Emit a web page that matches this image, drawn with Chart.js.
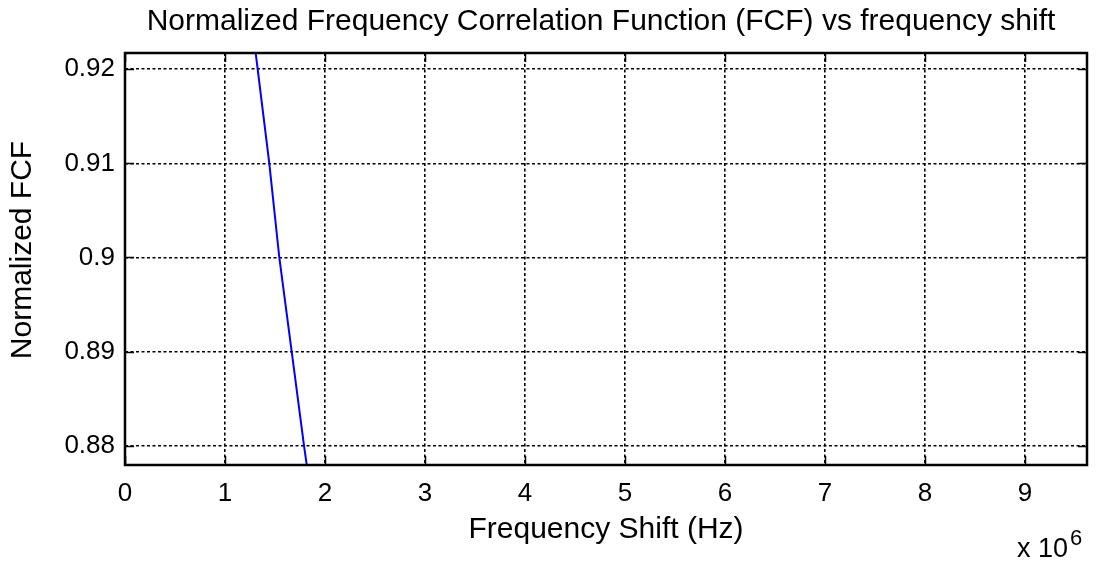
<!DOCTYPE html>
<html>
<head>
<meta charset="utf-8">
<script src="https://cdn.jsdelivr.net/npm/chart.js@4.4.1/dist/chart.umd.min.js"></script>
<style>
  html, body { margin: 0; padding: 0; background: #fff; }
  #wrap { width: 1096px; height: 565px; position: relative; }
</style>
</head>
<body>
<div id="wrap"><canvas id="c" width="1096" height="565"></canvas></div>
<script>
// Data
const freqShiftHz = [1.307e6, 1.327e6, 1.443e6, 1.543e6, 1.667e6, 1.790e6, 1.817e6];
const fcfValues   = [0.9217, 0.9200, 0.9100, 0.9000, 0.8900, 0.8800, 0.8780];
const xTickValues = [0, 1e6, 2e6, 3e6, 4e6, 5e6, 6e6, 7e6, 8e6, 9e6];
const xTickLabels = ['0', '1', '2', '3', '4', '5', '6', '7', '8', '9'];
const yTickValues = [0.88, 0.89, 0.90, 0.91, 0.92];
const yTickLabels = ['0.88', '0.89', '0.9', '0.91', '0.92'];
const xRange = [0, 9.62e6];
const yRange = [0.87795, 0.92173];

const chartTitle = 'Normalized Frequency Correlation Function (FCF) vs frequency shift';
const yAxisTitle = 'Normalized FCF';
const xAxisTitle = 'Frequency Shift (Hz)';

const FONT = 'Liberation Sans, Arial, Helvetica, sans-serif';

const framePlugin = {
  id: 'frame',
  afterDatasetsDraw(chart) {
    const { ctx, chartArea: a, scales } = chart;
    const tl = 9;
    ctx.save();
    ctx.strokeStyle = '#000';
    ctx.lineWidth = 1.5;
    ctx.beginPath();
    xTickValues.forEach(v => {
      const px = Math.round(scales.x.getPixelForValue(v)) + 0.5;
      ctx.moveTo(px, a.bottom); ctx.lineTo(px, a.bottom - tl);
      ctx.moveTo(px, a.top); ctx.lineTo(px, a.top + tl);
    });
    yTickValues.forEach(v => {
      const py = Math.round(scales.y.getPixelForValue(v)) + 0.5;
      ctx.moveTo(a.left, py); ctx.lineTo(a.left + tl, py);
      ctx.moveTo(a.right, py); ctx.lineTo(a.right - tl, py);
    });
    ctx.stroke();
    ctx.lineWidth = 2.5;
    ctx.strokeRect(a.left, a.top, a.right - a.left, a.bottom - a.top);

    ctx.fillStyle = '#000';
    // chart title, centred over the plot area
    ctx.font = '30px ' + FONT;
    ctx.textAlign = 'center';
    ctx.textBaseline = 'middle';
    ctx.fillText(chartTitle, (a.left + a.right) / 2 - 5, 22);
    // y axis title
    ctx.save();
    ctx.translate(23, 250);
    ctx.rotate(-Math.PI / 2);
    ctx.fillText(yAxisTitle, 0, 0);
    ctx.restore();
    // exponent label
    ctx.textBaseline = 'alphabetic';
    ctx.textAlign = 'left';
    ctx.font = '27px ' + FONT;
    ctx.fillText('x 10', 1017, 557);
    ctx.font = '22px ' + FONT;
    ctx.fillText('6', 1070, 545);
    ctx.restore();
  }
};

new Chart(document.getElementById('c'), {
  type: 'scatter',
  data: {
    datasets: [{
      data: freqShiftHz.map((x, i) => ({ x, y: fcfValues[i] })),
      showLine: true,
      borderColor: '#0000ff',
      borderWidth: 2,
      pointRadius: 0,
      tension: 0
    }]
  },
  options: {
    responsive: false,
    animation: false,
    devicePixelRatio: 1,
    layout: { padding: { left: 0, right: 9, top: 53, bottom: 0 } },
    plugins: {
      legend: { display: false },
      tooltip: { enabled: false },
      title: { display: false }
    },
    scales: {
      x: {
        type: 'linear',
        min: xRange[0], max: xRange[1],
        afterFit: s => { s.height = 100; },
        afterBuildTicks: s => { s.ticks = xTickValues.map(v => ({ value: v })); },
        ticks: {
          color: '#000',
          font: { family: FONT, size: 26 },
          padding: 13,
          maxRotation: 0,
          autoSkip: false,
          callback: (v, i) => xTickLabels[i]
        },
        grid: { color: '#000', lineWidth: 1.6, drawTicks: false },
        border: { display: false, dash: [3, 2.5] },
        title: {
          display: true,
          text: xAxisTitle,
          color: '#000',
          font: { family: FONT, size: 30, lineHeight: 1.2 },
          padding: { top: 0, bottom: 17 }
        }
      },
      y: {
        type: 'linear',
        min: yRange[0], max: yRange[1],
        afterFit: s => { s.width = 125; },
        afterBuildTicks: s => { s.ticks = yTickValues.map(v => ({ value: v })); },
        ticks: {
          color: '#000',
          font: { family: FONT, size: 26 },
          padding: 10,
          autoSkip: false,
          callback: (v, i) => yTickLabels[i]
        },
        grid: { color: '#000', lineWidth: 1.6, drawTicks: false },
        border: { display: false, dash: [3, 2.5] },
        title: { display: false }
      }
    }
  },
  plugins: [framePlugin]
});
</script>
</body>
</html>
